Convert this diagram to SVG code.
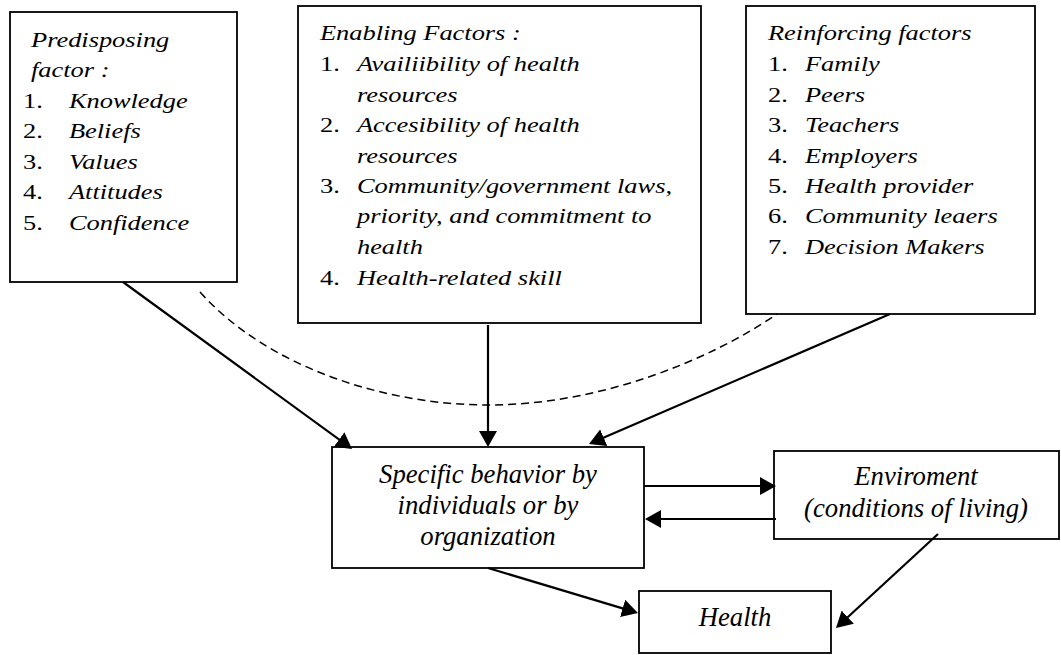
<svg xmlns="http://www.w3.org/2000/svg" width="1061" height="655" viewBox="0 0 1061 655">
  <style>
    .box { fill: #ffffff; stroke: #000000; stroke-width: 1.8; }
    .num { font-family: "Liberation Serif", "Times New Roman", serif; font-size: 22px; fill: #000000; }
    .it { font-family: "Liberation Serif", "Times New Roman", serif; font-style: italic; font-size: 22px; fill: #000000; }
    .lbl { font-family: "Liberation Serif", "Times New Roman", serif; font-style: italic; font-size: 26.7px; fill: #000000; text-anchor: middle; }
    .link { fill: none; stroke: #000000; stroke-width: 2.2; }
    .dash { fill: none; stroke: #000000; stroke-width: 1.5; stroke-dasharray: 8 5; }
  </style>
  <defs>
    <marker id="arrow" markerUnits="userSpaceOnUse" markerWidth="17" markerHeight="18" refX="13" refY="9" orient="auto">
      <path d="M0,0 L16,9 L0,18 Z" fill="#000000"/>
    </marker>
  </defs>

  <rect x="0" y="0" width="1061" height="655" fill="#ffffff"/>

  <!-- Predisposing factors -->
  <g id="predisposing">
    <rect class="box" x="10" y="12" width="227" height="270"/>
    <g transform="translate(23,0) scale(1.2,1)">
      <text class="it" x="6.7" y="47">Predisposing</text>
      <text class="it" x="6.7" y="77">factor :</text>
      <text class="num" x="0" y="108">1.</text><text class="it" x="38.3" y="108">Knowledge</text>
      <text class="num" x="0" y="138">2.</text><text class="it" x="38.3" y="138">Beliefs</text>
      <text class="num" x="0" y="169">3.</text><text class="it" x="38.3" y="169">Values</text>
      <text class="num" x="0" y="199">4.</text><text class="it" x="38.3" y="199">Attitudes</text>
      <text class="num" x="0" y="230">5.</text><text class="it" x="38.3" y="230">Confidence</text>
    </g>
  </g>

  <!-- Enabling factors -->
  <g id="enabling">
    <rect class="box" x="298" y="6" width="403" height="317"/>
    <g transform="translate(320,0) scale(1.2,1)">
      <text class="it" x="0" y="40">Enabling Factors :</text>
      <text class="num" x="0" y="71">1.</text><text class="it" x="30.8" y="71">Availiibility of health</text>
      <text class="it" x="30.8" y="102">resources</text>
      <text class="num" x="0" y="132">2.</text><text class="it" x="30.8" y="132">Accesibility of health</text>
      <text class="it" x="30.8" y="163">resources</text>
      <text class="num" x="0" y="193">3.</text><text class="it" x="30.8" y="193">Community/government laws,</text>
      <text class="it" x="30.8" y="223">priority, and commitment to</text>
      <text class="it" x="30.8" y="254">health</text>
      <text class="num" x="0" y="285">4.</text><text class="it" x="30.8" y="285">Health-related skill</text>
    </g>
  </g>

  <!-- Reinforcing factors -->
  <g id="reinforcing">
    <rect class="box" x="746" y="6" width="289" height="308"/>
    <g transform="translate(768,0) scale(1.2,1)">
      <text class="it" x="0" y="40">Reinforcing factors</text>
      <text class="num" x="0" y="71">1.</text><text class="it" x="30.8" y="71">Family</text>
      <text class="num" x="0" y="102">2.</text><text class="it" x="30.8" y="102">Peers</text>
      <text class="num" x="0" y="132">3.</text><text class="it" x="30.8" y="132">Teachers</text>
      <text class="num" x="0" y="163">4.</text><text class="it" x="30.8" y="163">Employers</text>
      <text class="num" x="0" y="193">5.</text><text class="it" x="30.8" y="193">Health provider</text>
      <text class="num" x="0" y="223">6.</text><text class="it" x="30.8" y="223">Community leaers</text>
      <text class="num" x="0" y="254">7.</text><text class="it" x="30.8" y="254">Decision Makers</text>
    </g>
  </g>

  <!-- Specific behavior -->
  <g id="behavior">
    <rect class="box" x="332" y="447" width="312" height="121"/>
    <text class="lbl" x="488" y="483">Specific behavior by</text>
    <text class="lbl" x="488" y="514">individuals or by</text>
    <text class="lbl" x="488" y="545">organization</text>
  </g>

  <!-- Environment -->
  <g id="environment">
    <rect class="box" x="774" y="451" width="285" height="88"/>
    <text class="lbl" x="916" y="485">Enviroment</text>
    <text class="lbl" x="916" y="517">(conditions of living)</text>
  </g>

  <!-- Health -->
  <g id="health">
    <rect class="box" x="639" y="591" width="192" height="62"/>
    <text class="lbl" x="735" y="626">Health</text>
  </g>

  <!-- Connectors -->
  <g id="connectors">
    <path class="dash" d="M200,292 C270,370 390,405 488,405 C600,405 710,360 777,314"/>
    <line class="link" x1="123" y1="282" x2="349.6" y2="447.2" marker-end="url(#arrow)"/>
    <line class="link" x1="488" y1="325" x2="488" y2="444" marker-end="url(#arrow)"/>
    <line class="link" x1="890" y1="314" x2="591.8" y2="442.8" marker-end="url(#arrow)"/>
    <line class="link" x1="644" y1="486" x2="773" y2="486" marker-end="url(#arrow)"/>
    <line class="link" x1="776" y1="519" x2="648" y2="519" marker-end="url(#arrow)"/>
    <line class="link" x1="488" y1="568" x2="635.1" y2="612.1" marker-end="url(#arrow)"/>
    <line class="link" x1="938" y1="534" x2="838.2" y2="626" marker-end="url(#arrow)"/>
  </g>
</svg>
